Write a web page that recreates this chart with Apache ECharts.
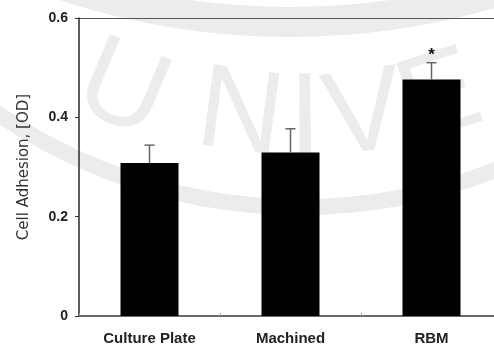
<!DOCTYPE html>
<html>
<head>
<meta charset="utf-8">
<script src="https://cdn.jsdelivr.net/npm/echarts@6/dist/echarts.min.js"></script>
<style>
  html, body { margin: 0; padding: 0; background: #ffffff; }
  #chart { width: 494px; height: 347px; }
</style>
</head>
<body>
<div id="chart"></div>
<script>
// Surface groups and measured cell adhesion (optical density)
const categories = ['Culture Plate', 'Machined', 'RBM'];
const meanOD = [0.308, 0.329, 0.476];
const sdOD = [0.036, 0.048, 0.034];
const significance = ['', '', '*'];
const yTicks = [0, 0.2, 0.4, 0.6];

// Faint seal lettering in the background
const sealLetters = ['U', 'N', 'I', 'V', 'E'];

const chart = echarts.init(document.getElementById('chart'), null, { renderer: 'canvas' });

const sealCentres = [[122, 92], [240, 117], [305, 122], [364, 118], [440, 100]];
const sealColor = '#ececec';
const background = [
  {
    type: 'arc', z: -10, silent: true,
    shape: { cx: 300, cy: -328, r: 535, startAngle: 0, endAngle: Math.PI },
    style: { fill: null, stroke: sealColor, lineWidth: 16 }
  },
  {
    type: 'arc', z: -10, silent: true,
    shape: { cx: 290, cy: -700, r: 722, startAngle: 0, endAngle: Math.PI },
    style: { fill: null, stroke: sealColor, lineWidth: 30 }
  }
].concat(sealLetters.map(function (ch, i) {
  const c = sealCentres[i];
  const ang = Math.atan2(c[0] - 300, c[1] + 328);
  return {
    type: 'text', z: -10, silent: true,
    x: c[0], y: c[1], rotation: ang,
    style: {
      text: ch, fill: sealColor,
      font: '118px "Liberation Sans", Arial, sans-serif',
      align: 'center', verticalAlign: 'middle'
    }
  };
}));

chart.setOption({
  animation: false,
  backgroundColor: '#ffffff',
  graphic: background,
  // plot area runs past the right edge of the canvas
  grid: { left: 79, top: 18, width: 423, height: 298, containLabel: false, outerBoundsMode: 'none' },
  xAxis: {
    type: 'category',
    data: categories,
    axisLine: { show: true, lineStyle: { color: '#3a3a3a', width: 1.5 } },
    axisTick: { show: true, inside: true, length: 3, alignWithLabel: false, lineStyle: { color: '#999' } },
    axisLabel: {
      margin: 15,
      color: '#222',
      fontFamily: '"Liberation Sans", Arial, sans-serif',
      fontWeight: 'bold',
      fontSize: 15
    }
  },
  yAxis: {
    type: 'value',
    min: yTicks[0],
    max: yTicks[yTicks.length - 1],
    interval: 0.2,
    name: 'Cell Adhesion, [OD]',
    nameLocation: 'middle',
    nameGap: 47,
    nameTextStyle: {
      color: '#333',
      fontFamily: '"DejaVu Sans", sans-serif',
      fontSize: 15
    },
    axisLine: { show: true, lineStyle: { color: '#2a2a2a', width: 1.5 } },
    axisTick: { show: true, length: 4, lineStyle: { color: '#333' } },
    axisLabel: {
      margin: 11,
      color: '#222',
      fontFamily: '"Liberation Sans", Arial, sans-serif',
      fontWeight: 'bold',
      fontSize: 14
    },
    splitLine: {
      show: true,
      lineStyle: { color: ['transparent', 'transparent', 'transparent', '#555'], width: 1 }
    }
  },
  series: [
    {
      type: 'bar',
      data: meanOD,
      barWidth: 58,
      itemStyle: { color: '#000000' },
      z: 3
    },
    {
      type: 'custom',
      z: 4,
      data: categories.map(function (c, i) { return [i, meanOD[i], sdOD[i]]; }),
      renderItem: function (params, api) {
        const i = api.value(0);
        const base = api.coord([i, api.value(1)]);
        const top = api.coord([i, api.value(1) + api.value(2)]);
        const half = 5;
        const children = [
          { type: 'line', shape: { x1: base[0], y1: base[1], x2: top[0], y2: top[1] },
            style: { stroke: '#666', lineWidth: 1.5 } },
          { type: 'line', shape: { x1: top[0] - half, y1: top[1], x2: top[0] + half, y2: top[1] },
            style: { stroke: '#666', lineWidth: 1.5 } }
        ];
        const mark = significance[params.dataIndex];
        if (mark) {
          children.push({
            type: 'text',
            x: top[0], y: top[1] + 1,
            style: {
              text: mark, fill: '#111',
              font: 'bold 17px "Liberation Sans", Arial, sans-serif',
              align: 'center', verticalAlign: 'bottom'
            }
          });
        }
        return { type: 'group', children: children };
      }
    }
  ]
});
</script>
</body>
</html>
